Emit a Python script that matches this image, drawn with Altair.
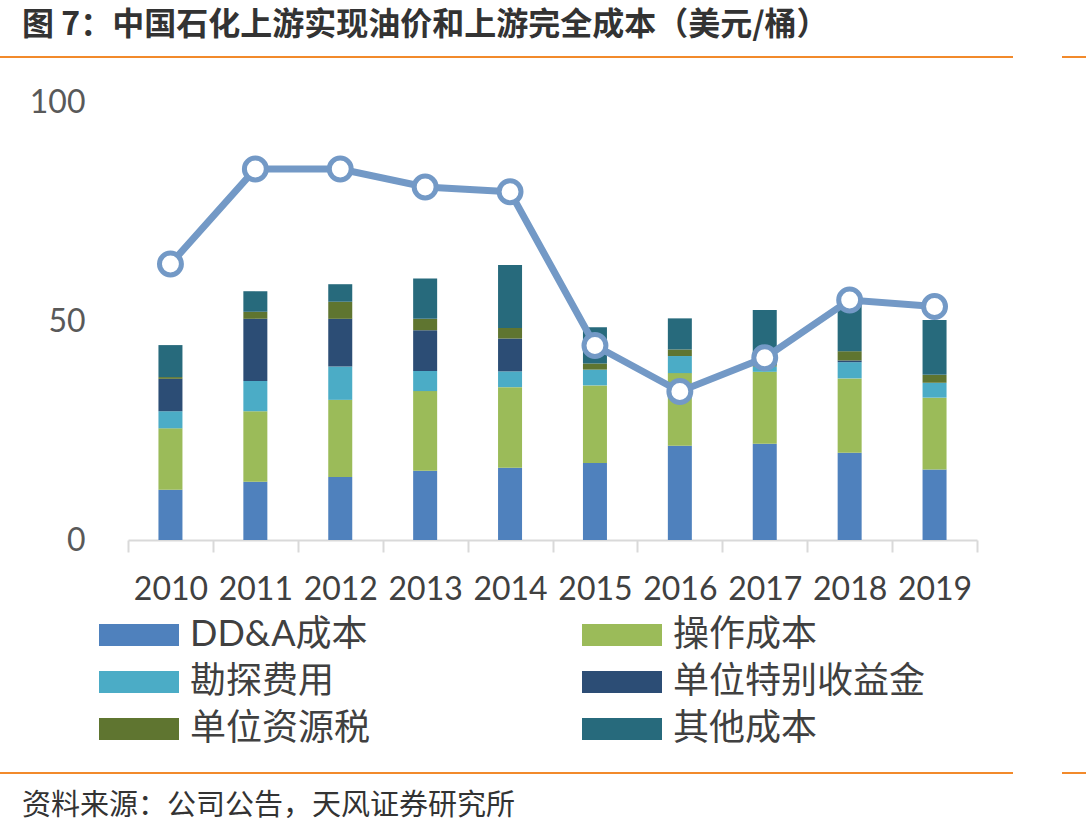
import altair as alt
import pandas as pd

years = ['2010', '2011', '2012', '2013', '2014', '2015', '2016', '2017', '2018', '2019']
series = ['DD&A成本', '操作成本', '勘探费用', '单位特别收益金', '单位资源税', '其他成本']
colors = ['#4F81BD', '#9BBB59', '#4BACC6', '#2C4D75', '#5F7530', '#276A7C']

dda = [11.5, 13.3, 14.4, 15.8, 16.5, 17.6, 21.5, 22.0, 19.9, 16.1]
op = [14.0, 16.1, 17.6, 18.2, 18.4, 17.7, 16.6, 16.4, 17.0, 16.4]
expl = [3.9, 6.9, 7.6, 4.6, 3.6, 3.6, 3.9, 1.2, 3.7, 3.4]
special = [7.4, 14.2, 10.9, 9.3, 7.5, 0.0, 0.0, 0.0, 0.4, 0.0]
restax = [0.4, 1.6, 3.9, 2.6, 2.4, 1.4, 1.5, 0.3, 2.1, 1.8]
other = [7.3, 4.7, 4.0, 9.2, 14.4, 8.3, 7.1, 12.6, 11.9, 12.5]
price = [63.0, 84.7, 84.7, 80.6, 79.5, 44.4, 33.9, 41.6, 54.8, 53.3]

title_text = '图 7：中国石化上游实现油价和上游完全成本（美元/桶）'
source_text = '资料来源：公司公告，天风证券研究所'

FONT = 'Lato, Noto Sans CJK SC, sans-serif'
CJK = 'Noto Sans CJK SC, sans-serif'
LINE_COLOR = '#7399C6'
ORANGE = '#F28A2B'

rows = []
for idx, (name, vals) in enumerate(zip(series, [dda, op, expl, special, restax, other])):
    for y, v in zip(years, vals):
        rows.append({'year': y, 'series': name, 'value': v, 'idx': idx})
bar_df = pd.DataFrame(rows)
line_df = pd.DataFrame({'year': years, 'price': price})

x_enc = alt.X('year:N', sort=years,
              scale=alt.Scale(paddingInner=0, paddingOuter=0),
              axis=alt.Axis(title=None, labelAngle=0, labelFontSize=32, labelFont=FONT,
                            labelColor='#404040', domainColor='#D9D9D9', domainWidth=2,
                            tickColor='#D9D9D9', tickWidth=2, tickSize=12,
                            tickBand='extent', labelPadding=22))
y_scale = alt.Scale(domain=[0, 100], nice=False)

bars = alt.Chart(bar_df).mark_bar(size=24).encode(
    x=x_enc,
    y=alt.Y('sum(value):Q', scale=y_scale, stack='zero',
            axis=alt.Axis(values=[0, 50, 100], title=None, domain=False, ticks=False,
                          grid=False, labelFontSize=32, labelFont=FONT,
                          labelColor='#595959', labelPadding=43)),
    color=alt.Color('series:N', sort=series,
                    scale=alt.Scale(domain=series, range=colors),
                    legend=alt.Legend(orient='none', legendX=-7, legendY=515, columns=2,
                                      direction='horizontal',
                                      title=None, symbolType='M-4,-1.1H4V1.1H-4Z',
                                      symbolSize=400, symbolStrokeWidth=0,
                                      labelFontSize=36, labelFont=FONT, labelColor='#404040',
                                      labelOffset=33, labelLimit=500, columnPadding=211,
                                      rowPadding=11, symbolOpacity=1)),
    order=alt.Order('idx:Q', sort='ascending'),
)

line = alt.Chart(line_df).mark_line(color=LINE_COLOR, strokeWidth=7).encode(
    x=alt.X('year:N', sort=years),
    y=alt.Y('price:Q', scale=y_scale),
)
points = alt.Chart(line_df).mark_point(filled=True, fill='white', stroke=LINE_COLOR,
                                       strokeWidth=5, size=480, opacity=1).encode(
    x=alt.X('year:N', sort=years),
    y=alt.Y('price:Q', scale=y_scale),
)

title = alt.Chart(pd.DataFrame({'t': [title_text]})).mark_text(
    align='left', baseline='middle', fontSize=32, fontWeight='bold', font=CJK,
    color='#333333').encode(x=alt.value(-106), y=alt.value(-77), text='t:N')
src = alt.Chart(pd.DataFrame({'t': [source_text]})).mark_text(
    align='left', baseline='middle', fontSize=29, font=CJK, color='#333333').encode(
    x=alt.value(-106), y=alt.value(704), text='t:N')

rule_df = pd.DataFrame({'a': [0]})
r1 = alt.Chart(rule_df).mark_rule(color=ORANGE, strokeWidth=2).encode(
    x=alt.value(-128), x2=alt.value(885), y=alt.value(-45))
r2 = alt.Chart(rule_df).mark_rule(color=ORANGE, strokeWidth=2).encode(
    x=alt.value(934), x2=alt.value(958), y=alt.value(-45))
r3 = alt.Chart(rule_df).mark_rule(color=ORANGE, strokeWidth=2).encode(
    x=alt.value(-128), x2=alt.value(885), y=alt.value(671))
r4 = alt.Chart(rule_df).mark_rule(color=ORANGE, strokeWidth=2).encode(
    x=alt.value(934), x2=alt.value(958), y=alt.value(671))

chart = alt.layer(bars, line, points, title, src, r1, r2, r3, r4).properties(
    width=849, height=438,
    padding={'left': 128, 'top': 102, 'right': 109, 'bottom': 297},
    autosize=alt.AutoSizeParams(type='none'),
    background='white',
).configure_view(stroke=None)

chart.save('out.html', embed_options={'renderer': 'svg', 'actions': False})
